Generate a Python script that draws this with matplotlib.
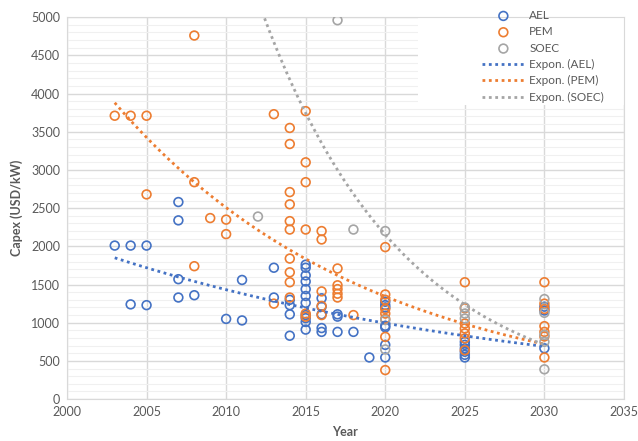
import numpy as np
import matplotlib.pyplot as plt
from matplotlib.patches import Rectangle

# Capex data points (year, USD/kW)
ael_year = [2003, 2004, 2004, 2005, 2005, 2007, 2007, 2007, 2007, 2008, 2010, 2011, 2011,
            2013, 2013, 2014, 2014, 2014, 2014,
            2015, 2015, 2015, 2015, 2015, 2015, 2015, 2015, 2015, 2015, 2015,
            2016, 2016, 2016, 2016, 2016, 2017, 2017, 2017, 2018, 2019,
            2020, 2020, 2020, 2020, 2020, 2020, 2020,
            2025, 2025, 2025, 2025, 2025, 2025, 2030, 2030, 2030]
ael_capex = [2010, 2010, 1240, 2010, 1230, 2580, 2340, 1570, 1330, 1360, 1050, 1560, 1030,
             1720, 1330, 1300, 1230, 1110, 830,
             1760, 1720, 1620, 1540, 1440, 1350, 1260, 1100, 1060, 1010, 910,
             1320, 1210, 1110, 930, 880, 1110, 1080, 880, 880, 545,
             1275, 1230, 1200, 960, 940, 710, 545,
             750, 710, 665, 620, 580, 545, 1210, 1160, 665]

pem_year = [2003, 2004, 2005, 2005, 2008, 2008, 2008, 2009, 2010, 2010, 2013, 2013,
            2014, 2014, 2014, 2014, 2014, 2014, 2014, 2014, 2014, 2014,
            2015, 2015, 2015, 2015, 2015, 2015, 2016, 2016, 2016, 2016, 2016,
            2017, 2017, 2017, 2017, 2017, 2018,
            2020, 2020, 2020, 2020, 2020, 2020, 2020, 2020,
            2025, 2025, 2025, 2025, 2025, 2025, 2025,
            2030, 2030, 2030, 2030, 2030, 2030, 2030]
pem_capex = [3710, 3710, 3710, 2680, 4760, 2840, 1740, 2370, 2350, 2160, 3730, 1250,
             3550, 3340, 2710, 2550, 2330, 2220, 1840, 1660, 1530, 1330,
             3770, 3100, 2840, 2220, 1120, 1080, 2200, 2090, 1410, 1220, 1100,
             1710, 1490, 1440, 1380, 1330, 1100,
             1990, 1370, 1300, 1180, 1120, 1050, 815, 380,
             1530, 1190, 990, 925, 860, 795, 640,
             1530, 1250, 1180, 955, 880, 820, 545]

soec_year = [2012, 2017, 2018, 2020, 2020, 2020, 2025, 2025, 2025,
             2030, 2030, 2030, 2030, 2030]
soec_capex = [2390, 4960, 2220, 2200, 1035, 650, 1200, 1120, 1055,
              1310, 1130, 840, 750, 390]

# Exponential trendlines: value at first and last year
trend_years = [(2003, 2030), (2003, 2030), (2012, 2030)]
trend_values = [(1850, 690), (3880, 720), (5220, 711)]

names = ['AEL', 'PEM', 'SOEC']
colors = ['#4472C4', '#ED7D31', '#A5A5A5']
years = [ael_year, pem_year, soec_year]
capex = [ael_capex, pem_capex, soec_capex]

plt.rcParams['font.family'] = ['Lato', 'DejaVu Sans']
txt = '#595959'

fig = plt.figure(figsize=(6.38, 4.41), dpi=100)
ax = fig.add_axes([0.105, 0.095, 0.873, 0.866])

handles = []
for name, yr, val, col in zip(names, years, capex, colors):
    h = ax.scatter(yr, val, s=40, facecolors='none', edgecolors=col, linewidths=1.2,
                   zorder=3, label=name)
    handles.append(h)

for name, (x0, x1), (v0, v1), col in zip(names, trend_years, trend_values, colors):
    b = np.log(v1 / v0) / (x1 - x0)
    xs = np.linspace(x0, x1, 300)
    ln, = ax.plot(xs, v0 * np.exp(b * (xs - x0)), color=col, lw=2,
                  linestyle=(0, (1, 1.3)), zorder=4, label='Expon. (%s)' % name)
    handles.append(ln)

ax.set_xlim(2000, 2035)
ax.set_ylim(0, 5000)
ax.set_xticks(range(2000, 2036, 5))
ax.set_yticks(range(0, 5001, 500))
ax.set_yticks(range(0, 5001, 100), minor=True)
ax.grid(True, which='major', color='#D9D9D9', lw=1, zorder=0)
ax.grid(True, which='minor', axis='y', color='#F0F0F0', lw=0.8, zorder=0)
ax.set_axisbelow(True)
ax.tick_params(which='both', length=0, labelsize=9, labelcolor=txt, pad=5)
for sp in ax.spines.values():
    sp.set_color('#D9D9D9')

ax.set_xlabel('Year', fontsize=9, fontweight='bold', color=txt, labelpad=6)
ax.set_ylabel('Capex (USD/kW)', fontsize=9, fontweight='bold', color=txt, labelpad=6)

# white box behind the legend hides the grid in the upper right
ax.add_patch(Rectangle((0.655, 0.762), 0.345, 0.238, transform=fig.transFigure,
                       facecolor='white', edgecolor='none', clip_on=False, zorder=2.5))

leg = fig.legend(handles=handles, loc='upper left', bbox_to_anchor=(0.739, 1.0),
                 frameon=False, fontsize=8.5, handlelength=3.7, handletextpad=0.35,
                 labelspacing=0.45, borderpad=0.35)
for t in leg.get_texts():
    t.set_color(txt)

plt.savefig('out.png', dpi=100)
